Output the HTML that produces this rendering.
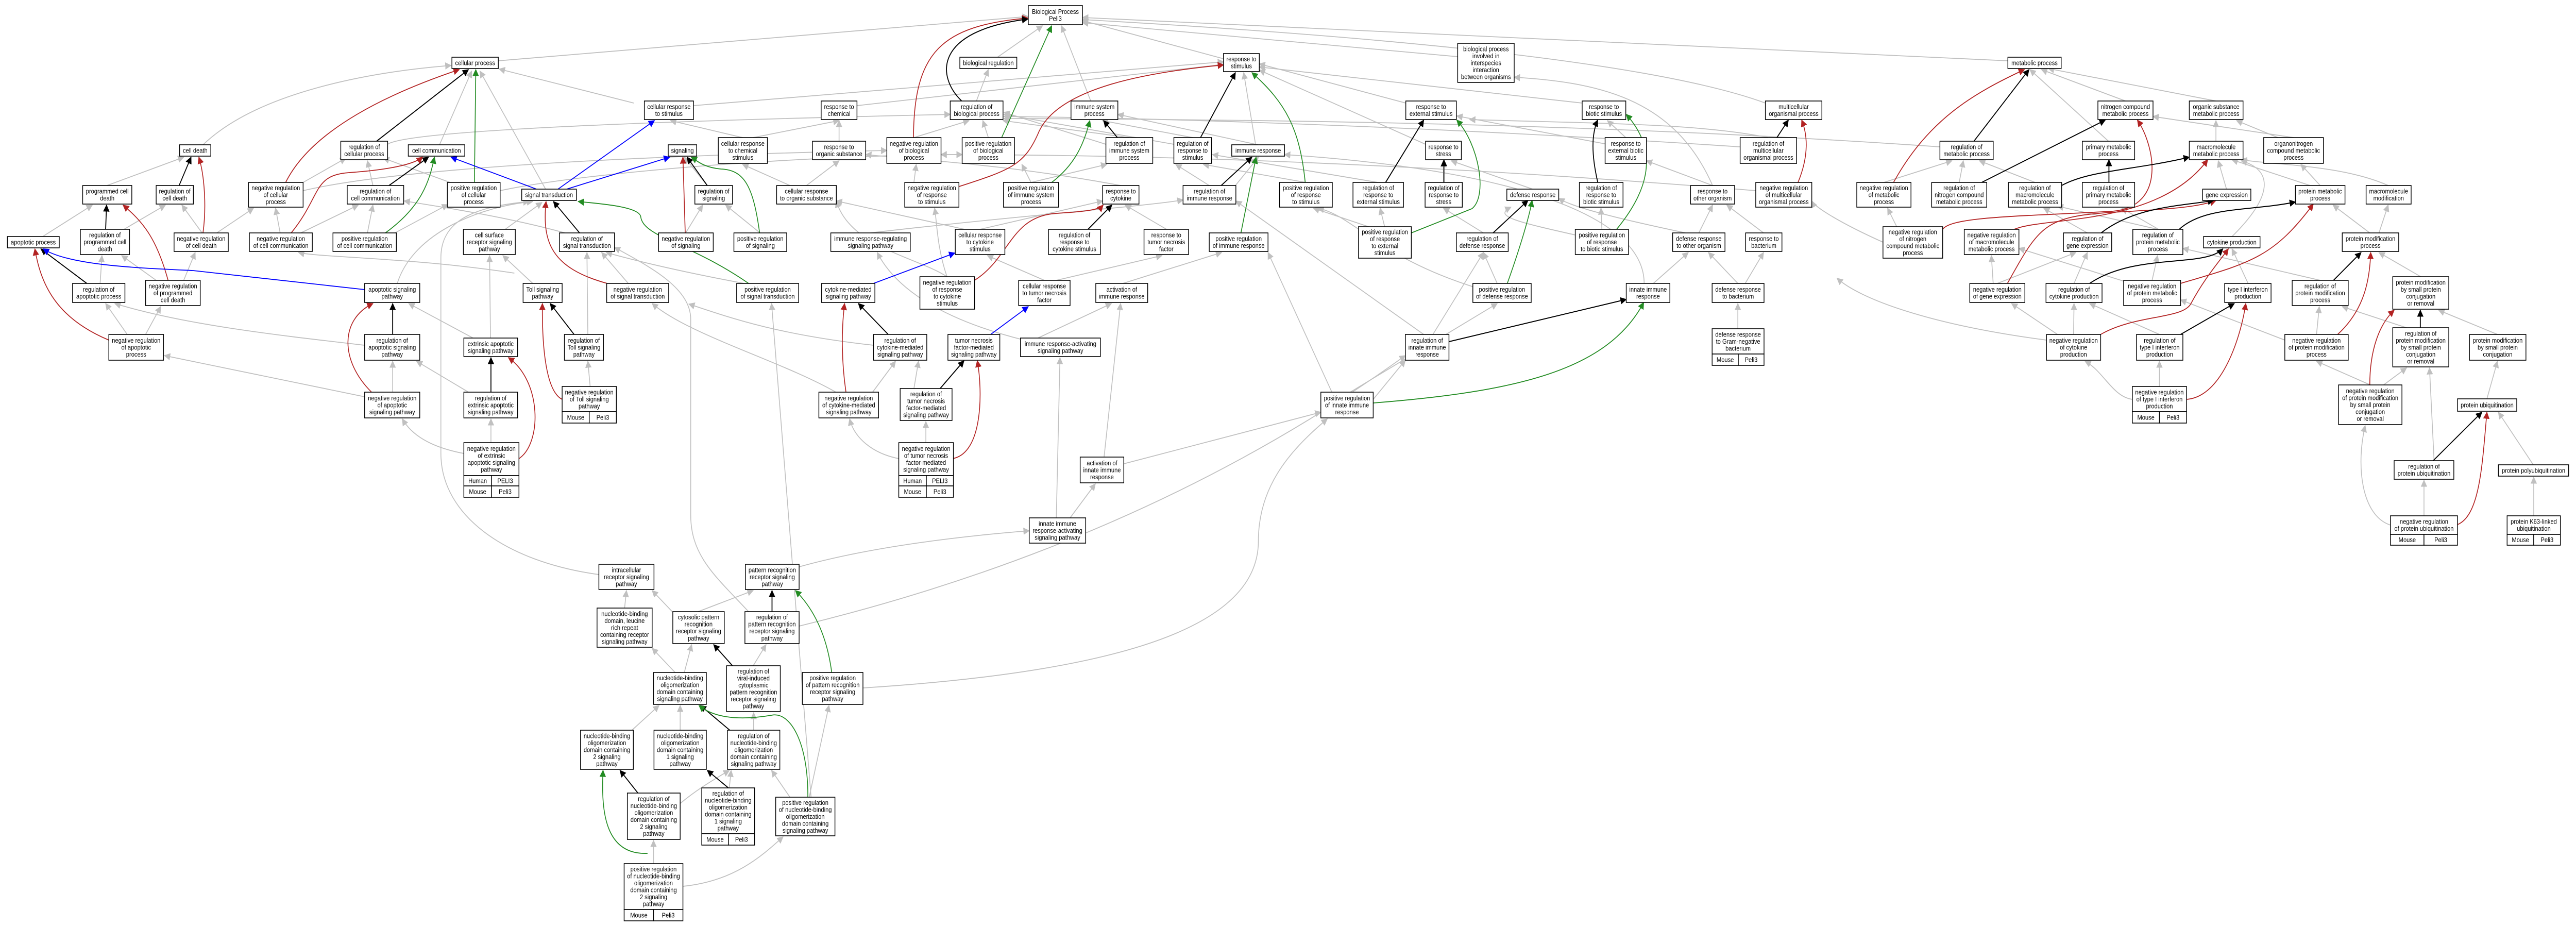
<!DOCTYPE html>
<html><head><meta charset="utf-8"><style>
html,body{margin:0;padding:0;background:#fff;overflow:hidden}
svg{display:block;width:100vw;height:100vh}
.n rect{fill:#fff;stroke:#000;stroke-width:1.6}
text{font-family:"Liberation Sans",sans-serif;font-size:12.5px;text-anchor:middle;fill:#000}
.g{fill:none;stroke:#c0c0c0;stroke-width:1.8}
.k{fill:none;stroke:#000;stroke-width:2}
.r{fill:none;stroke:#b22222;stroke-width:1.8}
.b{fill:none;stroke:#0000ff;stroke-width:1.8}
.e{fill:none;stroke:#228b22;stroke-width:1.8}
.bm{fill:#add8e6;stroke:#000;stroke-width:1.6}
.bh{fill:#f8613f;stroke:#000;stroke-width:1.6}
</style></head><body>
<svg viewBox="0 0 5609 1797" preserveAspectRatio="none" xmlns="http://www.w3.org/2000/svg">
<defs>
<marker id="ag" viewBox="0 0 10 10" refX="9" refY="5" markerWidth="14" markerHeight="14" markerUnits="userSpaceOnUse" orient="auto"><path d="M0,0L10,5L0,10z" fill="#c0c0c0"/></marker>
<marker id="ak" viewBox="0 0 10 10" refX="9" refY="5" markerWidth="14" markerHeight="14" markerUnits="userSpaceOnUse" orient="auto"><path d="M0,0L10,5L0,10z" fill="#000"/></marker>
<marker id="ar" viewBox="0 0 10 10" refX="9" refY="5" markerWidth="14" markerHeight="14" markerUnits="userSpaceOnUse" orient="auto"><path d="M0,0L10,5L0,10z" fill="#b22222"/></marker>
<marker id="ab" viewBox="0 0 10 10" refX="9" refY="5" markerWidth="14" markerHeight="14" markerUnits="userSpaceOnUse" orient="auto"><path d="M0,0L10,5L0,10z" fill="#0000ff"/></marker>
<marker id="ae" viewBox="0 0 10 10" refX="9" refY="5" markerWidth="14" markerHeight="14" markerUnits="userSpaceOnUse" orient="auto"><path d="M0,0L10,5L0,10z" fill="#228b22"/></marker>
</defs>

<g marker-end="url(#ag)">
<path class="g" d="M1085,118 L2239,32"/>
<path class="g" d="M442,281 C560,180 800,140 982,127"/>
<path class="g" d="M957,281 L1027,138"/>
<path class="g" d="M1188,367 L1045,138"/>
<path class="g" d="M1380,200 L1087,134"/>
<path class="g" d="M2172,111 L2270,50"/>
<path class="g" d="M2375,196 L2311,50"/>
<path class="g" d="M2664,114 L2357,40"/>
<path class="g" d="M4372,118 L2357,34"/>
<path class="g" d="M3844,200 C3600,120 3000,70 2357,38"/>
<path class="g" d="M3174,110 L2357,44"/>
<path class="g" d="M1510,205 L2664,120"/>
<path class="g" d="M1866,205 L2664,125"/>
<path class="g" d="M3061,200 L2742,124"/>
<path class="g" d="M3445,200 L2742,130"/>
<path class="g" d="M3104,280 L2742,136"/>
<path class="g" d="M2734,281 L2708,141"/>
<path class="g" d="M2126,196 L2152,135"/>
<path class="g" d="M844,280 Q900,245 2069,222"/>
<path class="g" d="M2556,280 L2186,222"/>
<path class="g" d="M2408,280 L2186,218"/>
<path class="g" d="M3789,285 C3200,250 2600,230 2186,226"/>
<path class="g" d="M4224,285 C3500,240 2800,232 2186,230"/>
<path class="g" d="M3823,370 C3000,310 2400,300 2049,300"/>
<path class="g" d="M660,370 C900,320 1500,300 1931,292"/>
<path class="g" d="M1089,370 C1300,330 1800,300 2095,300"/>
<path class="g" d="M1617,267 L1460,234"/>
<path class="g" d="M1640,267 L1827,234"/>
<path class="g" d="M1827,274 L1827,234"/>
<path class="g" d="M1756,360 L1827,312"/>
<path class="g" d="M1720,360 L1617,319"/>
<path class="g" d="M2440,360 C2200,320 2000,310 1885,300"/>
<path class="g" d="M2134,445 L2401,390"/>
<path class="g" d="M2100,445 L1821,390"/>
<path class="g" d="M2540,445 L2450,398"/>
<path class="g" d="M2274,544 L2150,496"/>
<path class="g" d="M2300,544 L2530,496"/>
<path class="g" d="M2739,281 L2434,222"/>
<path class="g" d="M1895,452 C2200,420 2500,400 2576,388"/>
<path class="g" d="M3337,367 L3160,312"/>
<path class="g" d="M3540,267 L3500,234"/>
<path class="g" d="M3500,280 L3172,225"/>
<path class="g" d="M3729,360 L3585,312"/>
<path class="g" d="M3729,360 C3650,200 3500,160 3297,150"/>
<path class="g" d="M3699,452 L3729,398"/>
<path class="g" d="M3670,452 C3500,420 3420,400 3394,385"/>
<path class="g" d="M3840,452 L3760,398"/>
<path class="g" d="M3784,550 L3720,490"/>
<path class="g" d="M3800,550 L3840,490"/>
<path class="g" d="M3784,638 L3784,589"/>
<path class="g" d="M3600,550 L3676,490"/>
<path class="g" d="M3580,550 C3580,420 3300,330 2797,300"/>
<path class="g" d="M3100,649 L2691,390"/>
<path class="g" d="M3120,649 L3230,490"/>
<path class="g" d="M2900,761 L2761,490"/>
<path class="g" d="M2940,761 L3260,589"/>
<path class="g" d="M2990,775 L3060,699"/>
<path class="g" d="M3230,452 L3143,404"/>
<path class="g" d="M3143,354 L3143,312"/>
<path class="g" d="M3000,354 L2640,300"/>
<path class="g" d="M3260,550 L3230,490"/>
<path class="g" d="M3220,560 C3000,500 2950,420 2870,404"/>
<path class="g" d="M3015,440 L3005,404"/>
<path class="g" d="M2980,440 L2860,404"/>
<path class="g" d="M3488,445 L3486,404"/>
<path class="g" d="M3450,460 C3300,430 3250,420 3290,402"/>
<path class="g" d="M3850,267 C3700,240 3500,240 3200,232"/>
<path class="g" d="M4628,196 L4445,135"/>
<path class="g" d="M4825,196 L4460,133"/>
<path class="g" d="M4591,274 L4420,135"/>
<path class="g" d="M4825,274 L4825,234"/>
<path class="g" d="M4994,267 L4688,226"/>
<path class="g" d="M4960,267 L4870,234"/>
<path class="g" d="M4102,354 L4250,312"/>
<path class="g" d="M4266,354 L4275,312"/>
<path class="g" d="M4431,354 L4310,312"/>
<path class="g" d="M4848,367 L4830,312"/>
<path class="g" d="M5030,360 L4860,310"/>
<path class="g" d="M5052,360 L5010,319"/>
<path class="g" d="M5200,360 C5100,320 4950,320 4880,310"/>
<path class="g" d="M5160,452 L5080,398"/>
<path class="g" d="M5180,452 L5200,398"/>
<path class="g" d="M5271,537 L5180,490"/>
<path class="g" d="M5438,649 L5310,602"/>
<path class="g" d="M5415,774 L5438,701"/>
<path class="g" d="M5516,902 L5440,800"/>
<path class="g" d="M5517,1001 L5517,926"/>
<path class="g" d="M5278,1001 L5278,932"/>
<path class="g" d="M5300,894 L5290,714"/>
<path class="g" d="M5161,747 L5044,701"/>
<path class="g" d="M5190,747 L5240,714"/>
<path class="g" d="M5205,1019 C5140,1000 5130,900 5150,826"/>
<path class="g" d="M4545,452 L4450,404"/>
<path class="g" d="M4349,550 L4520,490"/>
<path class="g" d="M4340,550 L4336,496"/>
<path class="g" d="M4516,550 L4545,490"/>
<path class="g" d="M4698,445 L4480,400"/>
<path class="g" d="M4700,445 L4620,404"/>
<path class="g" d="M4686,544 L4698,496"/>
<path class="g" d="M4640,550 L4396,482"/>
<path class="g" d="M5052,544 L4753,482"/>
<path class="g" d="M4895,550 L4860,483"/>
<path class="g" d="M4860,459 C4950,380 4950,330 4880,312"/>
<path class="g" d="M4515,649 L4516,589"/>
<path class="g" d="M4480,649 L4380,589"/>
<path class="g" d="M4702,649 L4550,589"/>
<path class="g" d="M4702,750 L4702,701"/>
<path class="g" d="M4643,775 C4600,770 4580,720 4540,701"/>
<path class="g" d="M4975,660 L4748,582"/>
<path class="g" d="M5044,649 L5050,595"/>
<path class="g" d="M5240,636 L5100,595"/>
<path class="g" d="M4456,660 C4200,630 4050,580 4000,540"/>
<path class="g" d="M4100,470 C4000,430 3950,400 3945,390"/>
<path class="g" d="M4130,440 L4110,404"/>
<path class="g" d="M233,360 L400,305"/>
<path class="g" d="M93,459 L201,398"/>
<path class="g" d="M270,445 L360,398"/>
<path class="g" d="M440,452 L396,398"/>
<path class="g" d="M472,452 L552,404"/>
<path class="g" d="M400,544 L425,490"/>
<path class="g" d="M340,544 L265,496"/>
<path class="g" d="M218,550 L222,496"/>
<path class="g" d="M277,649 L230,589"/>
<path class="g" d="M317,649 L350,595"/>
<path class="g" d="M794,770 L358,690"/>
<path class="g" d="M794,670 C600,650 400,630 250,589"/>
<path class="g" d="M865,550 C900,450 1050,400 1160,391"/>
<path class="g" d="M1030,656 L890,589"/>
<path class="g" d="M1068,656 L1066,496"/>
<path class="g" d="M1020,761 L907,701"/>
<path class="g" d="M855,761 L855,701"/>
<path class="g" d="M1069,859 L1069,813"/>
<path class="g" d="M1010,880 C950,870 900,850 876,813"/>
<path class="g" d="M812,360 L800,312"/>
<path class="g" d="M660,354 L753,307"/>
<path class="g" d="M980,354 L835,307"/>
<path class="g" d="M610,452 L600,404"/>
<path class="g" d="M655,452 L780,398"/>
<path class="g" d="M800,452 L812,398"/>
<path class="g" d="M860,452 L975,397"/>
<path class="g" d="M1100,445 L1180,393"/>
<path class="g" d="M1230,452 C1100,420 950,400 880,390"/>
<path class="g" d="M1160,550 L1095,496"/>
<path class="g" d="M1280,649 L1278,490"/>
<path class="g" d="M1285,750 L1280,701"/>
<path class="g" d="M1368,550 L1310,490"/>
<path class="g" d="M1620,550 C1500,530 1400,510 1320,490"/>
<path class="g" d="M1120,530 C900,500 700,500 650,490"/>
<path class="g" d="M1304,1115 C1100,1090 960,1000 960,880 L960,500 C960,420 1050,400 1152,391"/>
<path class="g" d="M1360,1180 L1364,1146"/>
<path class="g" d="M1740,1100 C1900,1060 2100,1040 2241,1030"/>
<path class="g" d="M1740,1215 Q2500,1050 3060,690"/>
<path class="g" d="M1879,1335 C2500,1300 2740,1200 2740,1050 C2740,950 2800,880 2890,813"/>
<path class="g" d="M1520,1187 L1640,1146"/>
<path class="g" d="M1467,1190 L1420,1146"/>
<path class="g" d="M1640,1292 L1668,1251"/>
<path class="g" d="M1470,1305 L1420,1258"/>
<path class="g" d="M1490,1305 L1506,1251"/>
<path class="g" d="M1481,1417 L1481,1369"/>
<path class="g" d="M1376,1417 L1435,1369"/>
<path class="g" d="M1641,1417 L1641,1383"/>
<path class="g" d="M1588,1529 L1592,1495"/>
<path class="g" d="M1480,1560 C1520,1530 1560,1510 1588,1495"/>
<path class="g" d="M1720,1547 L1680,1495"/>
<path class="g" d="M1762,1547 L1805,1369"/>
<path class="g" d="M1487,1720 C1600,1710 1660,1660 1705,1624"/>
<path class="g" d="M1423,1676 L1423,1631"/>
<path class="g" d="M2330,1005 L2385,939"/>
<path class="g" d="M2300,1005 L2308,694"/>
<path class="g" d="M2404,887 L2440,589"/>
<path class="g" d="M2447,900 L2876,800"/>
<path class="g" d="M2260,656 L2420,589"/>
<path class="g" d="M2230,660 C2050,620 1950,560 1910,490"/>
<path class="g" d="M2445,550 L2660,490"/>
<path class="g" d="M1820,761 C1700,700 1500,650 1420,589"/>
<path class="g" d="M1900,761 L1950,701"/>
<path class="g" d="M1990,754 L2000,701"/>
<path class="g" d="M2016,859 L2016,818"/>
<path class="g" d="M1957,890 C1900,880 1860,850 1850,813"/>
<path class="g" d="M1902,670 C1700,650 1600,620 1500,590"/>
<path class="g" d="M1766,1547 L1680,589"/>
<path class="g" d="M1630,1187 C1560,1120 1504,1080 1504,1000 L1504,620 C1504,560 1420,520 1338,480"/>
<path class="g" d="M2062,537 C2040,480 2040,430 2035,404"/>
<path class="g" d="M1493,452 L1530,398"/>
<path class="g" d="M1655,452 L1580,398"/>
<path class="g" d="M1540,360 L1490,305"/>
<path class="g" d="M1990,354 L1995,319"/>
<path class="g" d="M2245,354 L2225,319"/>
<path class="g" d="M2245,354 L2410,319"/>
<path class="g" d="M2633,360 L2560,319"/>
<path class="g" d="M2843,354 L2620,319"/>
<path class="g" d="M2690,360 L2740,305"/>
<path class="g" d="M2062,537 C2000,500 1850,480 1821,390"/>
<path class="g" d="M1990,267 L2110,234"/>
<path class="g" d="M2152,267 L2140,234"/>
<path class="g" d="M2459,267 L2184,234"/>
<path class="g" d="M2597,267 L2400,234"/>
</g>

<path class="r" marker-end="url(#ar)" d="M622,354 C680,250 850,180 1000,135"/>
<path class="k" marker-end="url(#ak)" d="M820,274 L1020,135"/>
<path class="e" marker-end="url(#ae)" d="M1033,354 L1036,135"/>
<path class="k" marker-end="url(#ak)" d="M390,360 L416,305"/>
<path class="r" marker-end="url(#ar)" d="M442,452 C450,400 445,340 433,305"/>
<path class="k" marker-end="url(#ak)" d="M230,445 L232,398"/>
<path class="r" marker-end="url(#ar)" d="M366,544 C340,460 310,430 268,398"/>
<path class="k" marker-end="url(#ak)" d="M189,550 L89,483"/>
<path class="b" marker-end="url(#ab)" d="M794,562 L420,525 C300,520 150,515 94,483"/>
<path class="r" marker-end="url(#ar)" d="M237,660 C130,620 90,560 76,483"/>
<path class="k" marker-end="url(#ak)" d="M847,360 L933,305"/>
<path class="r" marker-end="url(#ar)" d="M634,452 C700,380 680,340 760,335 C840,330 900,320 920,305"/>
<path class="e" marker-end="url(#ae)" d="M839,452 C920,400 935,350 946,305"/>
<path class="b" marker-end="url(#ab)" d="M1168,367 L982,305"/>
<path class="k" marker-end="url(#ak)" d="M1262,452 L1205,391"/>
<path class="r" marker-end="url(#ar)" d="M1322,550 C1200,520 1180,470 1189,391"/>
<path class="e" marker-end="url(#ae)" d="M1630,550 C1500,470 1400,460 1395,420 C1390,400 1300,395 1259,391"/>
<path class="k" marker-end="url(#ak)" d="M855,649 L855,589"/>
<path class="r" marker-end="url(#ar)" d="M809,761 C740,700 740,620 812,589"/>
<path class="k" marker-end="url(#ak)" d="M1069,761 L1069,694"/>
<path class="r" marker-end="url(#ar)" d="M1130,890 C1180,860 1180,740 1107,694"/>
<path class="k" marker-end="url(#ak)" d="M1250,649 L1198,589"/>
<path class="r" marker-end="url(#ar)" d="M1224,775 C1190,760 1180,680 1181,589"/>
<path class="b" marker-end="url(#ab)" d="M1215,367 L1425,234"/>
<path class="b" marker-end="url(#ab)" d="M1234,367 L1458,305"/>
<path class="r" marker-end="url(#ar)" d="M1989,267 C1990,100 2050,50 2238,35"/>
<path class="k" marker-end="url(#ak)" d="M2094,196 C2040,150 2030,60 2238,37"/>
<path class="e" marker-end="url(#ae)" d="M2181,267 L2290,50"/>
<path class="r" marker-end="url(#ar)" d="M2088,362 C2200,330 2230,320 2260,260 C2300,170 2500,140 2664,126"/>
<path class="k" marker-end="url(#ak)" d="M2614,267 L2690,141"/>
<path class="e" marker-end="url(#ae)" d="M2842,354 C2830,250 2800,200 2726,141"/>
<path class="k" marker-end="url(#ak)" d="M2433,267 L2403,234"/>
<path class="e" marker-end="url(#ae)" d="M2290,354 C2340,320 2360,280 2373,234"/>
<path class="k" marker-end="url(#ak)" d="M1540,360 L1496,305"/>
<path class="r" marker-end="url(#ar)" d="M1492,452 L1487,305"/>
<path class="e" marker-end="url(#ae)" d="M1654,452 C1640,360 1620,330 1570,328 C1530,325 1515,310 1505,305"/>
<path class="k" marker-end="url(#ak)" d="M2369,445 L2421,398"/>
<path class="r" marker-end="url(#ar)" d="M2122,544 C2200,500 2200,420 2300,414 C2380,410 2395,405 2402,398"/>
<path class="b" marker-end="url(#ab)" d="M1902,550 L2079,491"/>
<path class="k" marker-end="url(#ak)" d="M2659,360 L2726,305"/>
<path class="e" marker-end="url(#ae)" d="M2702,452 L2735,305"/>
<path class="k" marker-end="url(#ak)" d="M1934,649 L1869,589"/>
<path class="r" marker-end="url(#ar)" d="M1842,761 C1832,700 1832,640 1839,589"/>
<path class="b" marker-end="url(#ab)" d="M2157,649 L2239,595"/>
<path class="k" marker-end="url(#ak)" d="M2047,754 L2099,700"/>
<path class="r" marker-end="url(#ar)" d="M2074,890 C2140,880 2140,760 2128,700"/>
<path class="k" marker-end="url(#ak)" d="M3017,354 L3100,233"/>
<path class="e" marker-end="url(#ae)" d="M3073,452 L3205,405 C3240,380 3220,280 3172,233"/>
<path class="k" marker-end="url(#ak)" d="M3144,354 L3144,310"/>
<path class="k" marker-end="url(#ak)" d="M3479,354 C3465,300 3465,260 3479,233"/>
<path class="e" marker-end="url(#ae)" d="M3520,445 C3580,380 3620,300 3541,222"/>
<path class="k" marker-end="url(#ak)" d="M3251,452 L3327,389"/>
<path class="e" marker-end="url(#ae)" d="M3282,550 C3310,480 3330,420 3336,389"/>
<path class="k" marker-end="url(#ak)" d="M3155,663 L3541,581"/>
<path class="e" marker-end="url(#ae)" d="M2990,782 C3300,760 3500,720 3579,587"/>
<path class="k" marker-end="url(#ak)" d="M3869,267 L3894,233"/>
<path class="r" marker-end="url(#ar)" d="M3915,354 C3940,300 3935,260 3923,233"/>
<path class="r" marker-end="url(#ar)" d="M4123,354 C4200,230 4300,180 4408,135"/>
<path class="k" marker-end="url(#ak)" d="M4298,274 L4418,135"/>
<path class="k" marker-end="url(#ak)" d="M4315,354 L4584,233"/>
<path class="r" marker-end="url(#ar)" d="M4230,445 C4250,420 4400,420 4600,410 C4720,400 4690,280 4654,233"/>
<path class="k" marker-end="url(#ak)" d="M4592,354 L4592,310"/>
<path class="k" marker-end="url(#ak)" d="M4489,360 C4550,330 4650,330 4767,305"/>
<path class="r" marker-end="url(#ar)" d="M4386,445 C4450,420 4700,440 4807,310"/>
<path class="r" marker-end="url(#ar)" d="M4371,550 C4440,440 4450,420 4600,412 C4750,405 4790,400 4825,389"/>
<path class="k" marker-end="url(#ak)" d="M4575,452 C4650,400 4750,400 4820,389"/>
<path class="k" marker-end="url(#ak)" d="M4745,445 C4800,400 4900,410 4998,392"/>
<path class="r" marker-end="url(#ar)" d="M4748,550 C4900,510 4950,500 5037,396"/>
<path class="k" marker-end="url(#ak)" d="M4550,550 C4650,490 4800,520 4840,483"/>
<path class="r" marker-end="url(#ar)" d="M4574,649 C4650,610 4750,620 4770,590 C4800,540 4830,510 4852,483"/>
<path class="k" marker-end="url(#ak)" d="M4748,649 L4865,589"/>
<path class="r" marker-end="url(#ar)" d="M4761,775 C4840,770 4880,650 4890,589"/>
<path class="k" marker-end="url(#ak)" d="M5081,544 L5141,490"/>
<path class="r" marker-end="url(#ar)" d="M5090,649 C5150,600 5160,540 5162,490"/>
<path class="k" marker-end="url(#ak)" d="M5270,636 L5270,602"/>
<path class="r" marker-end="url(#ar)" d="M5160,747 C5160,680 5180,630 5213,602"/>
<path class="k" marker-end="url(#ak)" d="M5298,894 L5404,800"/>
<path class="r" marker-end="url(#ar)" d="M5351,1018 C5400,1000 5405,900 5415,800"/>
<path class="k" marker-end="url(#ak)" d="M1681,1187 L1681,1146"/>
<path class="e" marker-end="url(#ae)" d="M1811,1305 C1800,1230 1770,1180 1732,1146"/>
<path class="k" marker-end="url(#ak)" d="M1595,1292 L1554,1251"/>
<path class="k" marker-end="url(#ak)" d="M1589,1417 L1525,1369"/>
<path class="e" marker-end="url(#ae)" d="M1759,1547 C1760,1440 1720,1380 1680,1388 C1600,1400 1550,1390 1522,1369"/>
<path class="k" marker-end="url(#ak)" d="M1586,1529 L1540,1495"/>
<path class="k" marker-end="url(#ak)" d="M1389,1539 L1350,1495"/>
<path class="e" marker-end="url(#ae)" d="M1410,1656 C1310,1660 1310,1560 1313,1495"/>

<g class="n">
<rect x="984" y="111" width="101" height="22"/><text x="1034.5" y="122"><tspan dy="4.5">cellular process</tspan></text>
<rect x="391" y="281" width="68" height="22"/><text x="425" y="292"><tspan dy="4.5">cell death</tspan></text>
<rect x="742" y="274" width="102" height="36"/><text x="793" y="292"><tspan x="793" dy="-2.25">regulation of</tspan><tspan x="793" dy="13.5">cellular process</tspan></text>
<rect x="889" y="281" width="123" height="22"/><text x="950.5" y="292"><tspan dy="4.5">cell communication</tspan></text>
<rect x="180" y="360" width="107" height="36"/><text x="233.5" y="378"><tspan x="233.5" dy="-2.25">programmed cell</tspan><tspan x="233.5" dy="13.5">death</tspan></text>
<rect x="340" y="360" width="81" height="36"/><text x="380.5" y="378"><tspan x="380.5" dy="-2.25">regulation of</tspan><tspan x="380.5" dy="13.5">cell death</tspan></text>
<rect x="541" y="354" width="119" height="48"/><text x="600.5" y="378"><tspan x="600.5" dy="-9">negative regulation</tspan><tspan x="600.5" dy="13.5">of cellular</tspan><tspan x="600.5" dy="13.5">process</tspan></text>
<rect x="756" y="360" width="123" height="36"/><text x="817.5" y="378"><tspan x="817.5" dy="-2.25">regulation of</tspan><tspan x="817.5" dy="13.5">cell communication</tspan></text>
<rect x="974" y="354" width="115" height="48"/><text x="1031.5" y="378"><tspan x="1031.5" dy="-9">positive regulation</tspan><tspan x="1031.5" dy="13.5">of cellular</tspan><tspan x="1031.5" dy="13.5">process</tspan></text>
<rect x="1136" y="367" width="119" height="22"/><text x="1195.5" y="378"><tspan dy="4.5">signal transduction</tspan></text>
<rect x="16" y="459" width="113" height="22"/><text x="72.5" y="470"><tspan dy="4.5">apoptotic process</tspan></text>
<rect x="175" y="445" width="107" height="49"/><text x="228.5" y="469.5"><tspan x="228.5" dy="-9">regulation of</tspan><tspan x="228.5" dy="13.5">programmed cell</tspan><tspan x="228.5" dy="13.5">death</tspan></text>
<rect x="379" y="452" width="118" height="36"/><text x="438" y="470"><tspan x="438" dy="-2.25">negative regulation</tspan><tspan x="438" dy="13.5">of cell death</tspan></text>
<rect x="543" y="452" width="137" height="36"/><text x="611.5" y="470"><tspan x="611.5" dy="-2.25">negative regulation</tspan><tspan x="611.5" dy="13.5">of cell communication</tspan></text>
<rect x="725" y="452" width="138" height="36"/><text x="794" y="470"><tspan x="794" dy="-2.25">positive regulation</tspan><tspan x="794" dy="13.5">of cell communication</tspan></text>
<rect x="1009" y="445" width="113" height="49"/><text x="1065.5" y="469.5"><tspan x="1065.5" dy="-9">cell surface</tspan><tspan x="1065.5" dy="13.5">receptor signaling</tspan><tspan x="1065.5" dy="13.5">pathway</tspan></text>
<rect x="1218" y="452" width="120" height="36"/><text x="1278" y="470"><tspan x="1278" dy="-2.25">regulation of</tspan><tspan x="1278" dy="13.5">signal transduction</tspan></text>
<rect x="158" y="550" width="114" height="37"/><text x="215" y="568.5"><tspan x="215" dy="-2.25">regulation of</tspan><tspan x="215" dy="13.5">apoptotic process</tspan></text>
<rect x="317" y="544" width="119" height="49"/><text x="376.5" y="568.5"><tspan x="376.5" dy="-9">negative regulation</tspan><tspan x="376.5" dy="13.5">of programmed</tspan><tspan x="376.5" dy="13.5">cell death</tspan></text>
<rect x="794" y="550" width="120" height="37"/><text x="854" y="568.5"><tspan x="854" dy="-2.25">apoptotic signaling</tspan><tspan x="854" dy="13.5">pathway</tspan></text>
<rect x="1139" y="550" width="85" height="37"/><text x="1181.5" y="568.5"><tspan x="1181.5" dy="-2.25">Toll signaling</tspan><tspan x="1181.5" dy="13.5">pathway</tspan></text>
<rect x="1321" y="550" width="135" height="37"/><text x="1388.5" y="568.5"><tspan x="1388.5" dy="-2.25">negative regulation</tspan><tspan x="1388.5" dy="13.5">of signal transduction</tspan></text>
<rect x="237" y="649" width="119" height="50"/><text x="296.5" y="674"><tspan x="296.5" dy="-9">negative regulation</tspan><tspan x="296.5" dy="13.5">of apoptotic</tspan><tspan x="296.5" dy="13.5">process</tspan></text>
<rect x="794" y="649" width="120" height="50"/><text x="854" y="674"><tspan x="854" dy="-9">regulation of</tspan><tspan x="854" dy="13.5">apoptotic signaling</tspan><tspan x="854" dy="13.5">pathway</tspan></text>
<rect x="1010" y="656" width="117" height="36"/><text x="1068.5" y="674"><tspan x="1068.5" dy="-2.25">extrinsic apoptotic</tspan><tspan x="1068.5" dy="13.5">signaling pathway</tspan></text>
<rect x="1229" y="649" width="85" height="50"/><text x="1271.5" y="674"><tspan x="1271.5" dy="-9">regulation of</tspan><tspan x="1271.5" dy="13.5">Toll signaling</tspan><tspan x="1271.5" dy="13.5">pathway</tspan></text>
<rect x="1224" y="750" width="118" height="49"/><text x="1283" y="774.5"><tspan x="1283" dy="-9">negative regulation</tspan><tspan x="1283" dy="13.5">of Toll signaling</tspan><tspan x="1283" dy="13.5">pathway</tspan></text>
<rect class="bm" x="1224" y="799" width="59" height="22"/><rect class="bm" x="1283" y="799" width="59" height="22"/><text x="1253.5" y="814.5">Mouse</text><text x="1312.5" y="814.5">Peli3</text>
<rect x="794" y="761" width="120" height="50"/><text x="854" y="786"><tspan x="854" dy="-9">negative regulation</tspan><tspan x="854" dy="13.5">of apoptotic</tspan><tspan x="854" dy="13.5">signaling pathway</tspan></text>
<rect x="1010" y="761" width="117" height="50"/><text x="1068.5" y="786"><tspan x="1068.5" dy="-9">regulation of</tspan><tspan x="1068.5" dy="13.5">extrinsic apoptotic</tspan><tspan x="1068.5" dy="13.5">signaling pathway</tspan></text>
<rect x="1010" y="859" width="120" height="64"/><text x="1070" y="891"><tspan x="1070" dy="-15.75">negative regulation</tspan><tspan x="1070" dy="13.5">of extrinsic</tspan><tspan x="1070" dy="13.5">apoptotic signaling</tspan><tspan x="1070" dy="13.5">pathway</tspan></text>
<rect class="bh" x="1010" y="923" width="60" height="20"/><rect class="bh" x="1070" y="923" width="60" height="20"/><text x="1040" y="937.5">Human</text><text x="1100" y="937.5">PELI3</text>
<rect class="bm" x="1010" y="943" width="60" height="22"/><rect class="bm" x="1070" y="943" width="60" height="22"/><text x="1040" y="958.5">Mouse</text><text x="1100" y="958.5">Peli3</text>
<rect x="1304" y="1095" width="120" height="49"/><text x="1364" y="1119.5"><tspan x="1364" dy="-9">intracellular</tspan><tspan x="1364" dy="13.5">receptor signaling</tspan><tspan x="1364" dy="13.5">pathway</tspan></text>
<rect x="1300" y="1180" width="120" height="76"/><text x="1360" y="1218"><tspan x="1360" dy="-22.5">nucleotide-binding</tspan><tspan x="1360" dy="13.5">domain, leucine</tspan><tspan x="1360" dy="13.5">rich repeat</tspan><tspan x="1360" dy="13.5">containing receptor</tspan><tspan x="1360" dy="13.5">signaling pathway</tspan></text>
<rect x="1264" y="1417" width="115" height="76"/><text x="1321.5" y="1455"><tspan x="1321.5" dy="-22.5">nucleotide-binding</tspan><tspan x="1321.5" dy="13.5">oligomerization</tspan><tspan x="1321.5" dy="13.5">domain containing</tspan><tspan x="1321.5" dy="13.5">2 signaling</tspan><tspan x="1321.5" dy="13.5">pathway</tspan></text>
<rect x="1366" y="1539" width="115" height="90"/><text x="1423.5" y="1584"><tspan x="1423.5" dy="-29.25">regulation of</tspan><tspan x="1423.5" dy="13.5">nucleotide-binding</tspan><tspan x="1423.5" dy="13.5">oligomerization</tspan><tspan x="1423.5" dy="13.5">domain containing</tspan><tspan x="1423.5" dy="13.5">2 signaling</tspan><tspan x="1423.5" dy="13.5">pathway</tspan></text>
<rect x="1359" y="1676" width="128" height="89"/><text x="1423" y="1720.5"><tspan x="1423" dy="-29.25">positive regulation</tspan><tspan x="1423" dy="13.5">of nucleotide-binding</tspan><tspan x="1423" dy="13.5">oligomerization</tspan><tspan x="1423" dy="13.5">domain containing</tspan><tspan x="1423" dy="13.5">2 signaling</tspan><tspan x="1423" dy="13.5">pathway</tspan></text>
<rect class="bm" x="1359" y="1765" width="64" height="22"/><rect class="bm" x="1423" y="1765" width="64" height="22"/><text x="1391" y="1780.5">Mouse</text><text x="1455" y="1780.5">Peli3</text>

<rect x="2239" y="11" width="118" height="37"/><text x="2298" y="29.5"><tspan x="2298" dy="-2.25">Biological Process</tspan><tspan x="2298" dy="13.5">Peli3</tspan></text>
<rect x="2090" y="111" width="124" height="22"/><text x="2152" y="122"><tspan dy="4.5">biological regulation</tspan></text>
<rect x="2664" y="104" width="78" height="35"/><text x="2703" y="121.5"><tspan x="2703" dy="-2.25">response to</tspan><tspan x="2703" dy="13.5">stimulus</tspan></text>
<rect x="1403" y="196" width="107" height="36"/><text x="1456.5" y="214"><tspan x="1456.5" dy="-2.25">cellular response</tspan><tspan x="1456.5" dy="13.5">to stimulus</tspan></text>
<rect x="1788" y="196" width="78" height="36"/><text x="1827" y="214"><tspan x="1827" dy="-2.25">response to</tspan><tspan x="1827" dy="13.5">chemical</tspan></text>
<rect x="2069" y="196" width="115" height="36"/><text x="2126.5" y="214"><tspan x="2126.5" dy="-2.25">regulation of</tspan><tspan x="2126.5" dy="13.5">biological process</tspan></text>
<rect x="2332" y="196" width="102" height="36"/><text x="2383" y="214"><tspan x="2383" dy="-2.25">immune system</tspan><tspan x="2383" dy="13.5">process</tspan></text>
<rect x="1455" y="281" width="62" height="22"/><text x="1486" y="292"><tspan dy="4.5">signaling</tspan></text>
<rect x="1564" y="267" width="107" height="50"/><text x="1617.5" y="292"><tspan x="1617.5" dy="-9">cellular response</tspan><tspan x="1617.5" dy="13.5">to chemical</tspan><tspan x="1617.5" dy="13.5">stimulus</tspan></text>
<rect x="1769" y="274" width="116" height="36"/><text x="1827" y="292"><tspan x="1827" dy="-2.25">response to</tspan><tspan x="1827" dy="13.5">organic substance</tspan></text>
<rect x="1931" y="267" width="118" height="50"/><text x="1990" y="292"><tspan x="1990" dy="-9">negative regulation</tspan><tspan x="1990" dy="13.5">of biological</tspan><tspan x="1990" dy="13.5">process</tspan></text>
<rect x="2095" y="267" width="114" height="50"/><text x="2152" y="292"><tspan x="2152" dy="-9">positive regulation</tspan><tspan x="2152" dy="13.5">of biological</tspan><tspan x="2152" dy="13.5">process</tspan></text>
<rect x="2408" y="267" width="102" height="50"/><text x="2459" y="292"><tspan x="2459" dy="-9">regulation of</tspan><tspan x="2459" dy="13.5">immune system</tspan><tspan x="2459" dy="13.5">process</tspan></text>
<rect x="2556" y="267" width="82" height="50"/><text x="2597" y="292"><tspan x="2597" dy="-9">regulation of</tspan><tspan x="2597" dy="13.5">response to</tspan><tspan x="2597" dy="13.5">stimulus</tspan></text>
<rect x="2682" y="281" width="115" height="22"/><text x="2739.5" y="292"><tspan dy="4.5">immune response</tspan></text>
<rect x="1513" y="360" width="82" height="36"/><text x="1554" y="378"><tspan x="1554" dy="-2.25">regulation of</tspan><tspan x="1554" dy="13.5">signaling</tspan></text>
<rect x="1691" y="360" width="130" height="36"/><text x="1756" y="378"><tspan x="1756" dy="-2.25">cellular response</tspan><tspan x="1756" dy="13.5">to organic substance</tspan></text>
<rect x="1970" y="354" width="118" height="48"/><text x="2029" y="378"><tspan x="2029" dy="-9">negative regulation</tspan><tspan x="2029" dy="13.5">of response</tspan><tspan x="2029" dy="13.5">to stimulus</tspan></text>
<rect x="2185" y="354" width="120" height="48"/><text x="2245" y="378"><tspan x="2245" dy="-9">positive regulation</tspan><tspan x="2245" dy="13.5">of immune system</tspan><tspan x="2245" dy="13.5">process</tspan></text>
<rect x="2401" y="360" width="79" height="36"/><text x="2440.5" y="378"><tspan x="2440.5" dy="-2.25">response to</tspan><tspan x="2440.5" dy="13.5">cytokine</tspan></text>
<rect x="2576" y="360" width="115" height="36"/><text x="2633.5" y="378"><tspan x="2633.5" dy="-2.25">regulation of</tspan><tspan x="2633.5" dy="13.5">immune response</tspan></text>
<rect x="2786" y="354" width="115" height="48"/><text x="2843.5" y="378"><tspan x="2843.5" dy="-9">positive regulation</tspan><tspan x="2843.5" dy="13.5">of response</tspan><tspan x="2843.5" dy="13.5">to stimulus</tspan></text>
<rect x="1434" y="452" width="119" height="36"/><text x="1493.5" y="470"><tspan x="1493.5" dy="-2.25">negative regulation</tspan><tspan x="1493.5" dy="13.5">of signaling</tspan></text>
<rect x="1598" y="452" width="115" height="36"/><text x="1655.5" y="470"><tspan x="1655.5" dy="-2.25">positive regulation</tspan><tspan x="1655.5" dy="13.5">of signaling</tspan></text>
<rect x="1809" y="452" width="173" height="36"/><text x="1895.5" y="470"><tspan x="1895.5" dy="-2.25">immune response-regulating</tspan><tspan x="1895.5" dy="13.5">signaling pathway</tspan></text>
<rect x="2080" y="445" width="108" height="49"/><text x="2134" y="469.5"><tspan x="2134" dy="-9">cellular response</tspan><tspan x="2134" dy="13.5">to cytokine</tspan><tspan x="2134" dy="13.5">stimulus</tspan></text>
<rect x="2283" y="445" width="113" height="49"/><text x="2339.5" y="469.5"><tspan x="2339.5" dy="-9">regulation of</tspan><tspan x="2339.5" dy="13.5">response to</tspan><tspan x="2339.5" dy="13.5">cytokine stimulus</tspan></text>
<rect x="2491" y="445" width="97" height="49"/><text x="2539.5" y="469.5"><tspan x="2539.5" dy="-9">response to</tspan><tspan x="2539.5" dy="13.5">tumor necrosis</tspan><tspan x="2539.5" dy="13.5">factor</tspan></text>
<rect x="2633" y="452" width="128" height="36"/><text x="2697" y="470"><tspan x="2697" dy="-2.25">positive regulation</tspan><tspan x="2697" dy="13.5">of immune response</tspan></text>
<rect x="1604" y="550" width="135" height="37"/><text x="1671.5" y="568.5"><tspan x="1671.5" dy="-2.25">positive regulation</tspan><tspan x="1671.5" dy="13.5">of signal transduction</tspan></text>
<rect x="1789" y="550" width="116" height="37"/><text x="1847" y="568.5"><tspan x="1847" dy="-2.25">cytokine-mediated</tspan><tspan x="1847" dy="13.5">signaling pathway</tspan></text>
<rect x="2003" y="537" width="119" height="63"/><text x="2062.5" y="568.5"><tspan x="2062.5" dy="-15.75">negative regulation</tspan><tspan x="2062.5" dy="13.5">of response</tspan><tspan x="2062.5" dy="13.5">to cytokine</tspan><tspan x="2062.5" dy="13.5">stimulus</tspan></text>
<rect x="2218" y="544" width="112" height="49"/><text x="2274" y="568.5"><tspan x="2274" dy="-9">cellular response</tspan><tspan x="2274" dy="13.5">to tumor necrosis</tspan><tspan x="2274" dy="13.5">factor</tspan></text>
<rect x="2386" y="550" width="113" height="37"/><text x="2442.5" y="568.5"><tspan x="2442.5" dy="-2.25">activation of</tspan><tspan x="2442.5" dy="13.5">immune response</tspan></text>
<rect x="1902" y="649" width="116" height="50"/><text x="1960" y="674"><tspan x="1960" dy="-9">regulation of</tspan><tspan x="1960" dy="13.5">cytokine-mediated</tspan><tspan x="1960" dy="13.5">signaling pathway</tspan></text>
<rect x="2064" y="649" width="113" height="50"/><text x="2120.5" y="674"><tspan x="2120.5" dy="-9">tumor necrosis</tspan><tspan x="2120.5" dy="13.5">factor-mediated</tspan><tspan x="2120.5" dy="13.5">signaling pathway</tspan></text>
<rect x="2222" y="656" width="174" height="36"/><text x="2309" y="674"><tspan x="2309" dy="-2.25">immune response-activating</tspan><tspan x="2309" dy="13.5">signaling pathway</tspan></text>
<rect x="1783" y="761" width="130" height="50"/><text x="1848" y="786"><tspan x="1848" dy="-9">negative regulation</tspan><tspan x="1848" dy="13.5">of cytokine-mediated</tspan><tspan x="1848" dy="13.5">signaling pathway</tspan></text>
<rect x="1960" y="754" width="113" height="62"/><text x="2016.5" y="785"><tspan x="2016.5" dy="-15.75">regulation of</tspan><tspan x="2016.5" dy="13.5">tumor necrosis</tspan><tspan x="2016.5" dy="13.5">factor-mediated</tspan><tspan x="2016.5" dy="13.5">signaling pathway</tspan></text>
<rect x="1957" y="859" width="119" height="64"/><text x="2016.5" y="891"><tspan x="2016.5" dy="-15.75">negative regulation</tspan><tspan x="2016.5" dy="13.5">of tumor necrosis</tspan><tspan x="2016.5" dy="13.5">factor-mediated</tspan><tspan x="2016.5" dy="13.5">signaling pathway</tspan></text>
<rect class="bh" x="1957" y="923" width="60" height="20"/><rect class="bh" x="2017" y="923" width="59" height="20"/><text x="1987" y="937.5">Human</text><text x="2046.5" y="937.5">PELI3</text>
<rect class="bm" x="1957" y="943" width="60" height="22"/><rect class="bm" x="2017" y="943" width="59" height="22"/><text x="1987" y="958.5">Mouse</text><text x="2046.5" y="958.5">Peli3</text>
<rect x="2352" y="887" width="95" height="50"/><text x="2399.5" y="912"><tspan x="2399.5" dy="-9">activation of</tspan><tspan x="2399.5" dy="13.5">innate immune</tspan><tspan x="2399.5" dy="13.5">response</tspan></text>
<rect x="2241" y="1005" width="123" height="49"/><text x="2302.5" y="1029.5"><tspan x="2302.5" dy="-9">innate immune</tspan><tspan x="2302.5" dy="13.5">response-activating</tspan><tspan x="2302.5" dy="13.5">signaling pathway</tspan></text>
<rect x="1623" y="1095" width="117" height="49"/><text x="1681.5" y="1119.5"><tspan x="1681.5" dy="-9">pattern recognition</tspan><tspan x="1681.5" dy="13.5">receptor signaling</tspan><tspan x="1681.5" dy="13.5">pathway</tspan></text>
<rect x="1465" y="1187" width="112" height="62"/><text x="1521" y="1218"><tspan x="1521" dy="-15.75">cytosolic pattern</tspan><tspan x="1521" dy="13.5">recognition</tspan><tspan x="1521" dy="13.5">receptor signaling</tspan><tspan x="1521" dy="13.5">pathway</tspan></text>
<rect x="1622" y="1187" width="118" height="62"/><text x="1681" y="1218"><tspan x="1681" dy="-15.75">regulation of</tspan><tspan x="1681" dy="13.5">pattern recognition</tspan><tspan x="1681" dy="13.5">receptor signaling</tspan><tspan x="1681" dy="13.5">pathway</tspan></text>
<rect x="1423" y="1305" width="115" height="62"/><text x="1480.5" y="1336"><tspan x="1480.5" dy="-15.75">nucleotide-binding</tspan><tspan x="1480.5" dy="13.5">oligomerization</tspan><tspan x="1480.5" dy="13.5">domain containing</tspan><tspan x="1480.5" dy="13.5">signaling pathway</tspan></text>
<rect x="1582" y="1292" width="117" height="89"/><text x="1640.5" y="1336.5"><tspan x="1640.5" dy="-29.25">regulation of</tspan><tspan x="1640.5" dy="13.5">viral-induced</tspan><tspan x="1640.5" dy="13.5">cytoplasmic</tspan><tspan x="1640.5" dy="13.5">pattern recognition</tspan><tspan x="1640.5" dy="13.5">receptor signaling</tspan><tspan x="1640.5" dy="13.5">pathway</tspan></text>
<rect x="1747" y="1305" width="132" height="62"/><text x="1813" y="1336"><tspan x="1813" dy="-15.75">positive regulation</tspan><tspan x="1813" dy="13.5">of pattern recognition</tspan><tspan x="1813" dy="13.5">receptor signaling</tspan><tspan x="1813" dy="13.5">pathway</tspan></text>
<rect x="1424" y="1417" width="114" height="76"/><text x="1481" y="1455"><tspan x="1481" dy="-22.5">nucleotide-binding</tspan><tspan x="1481" dy="13.5">oligomerization</tspan><tspan x="1481" dy="13.5">domain containing</tspan><tspan x="1481" dy="13.5">1 signaling</tspan><tspan x="1481" dy="13.5">pathway</tspan></text>
<rect x="1584" y="1417" width="114" height="76"/><text x="1641" y="1455"><tspan x="1641" dy="-22.5">regulation of</tspan><tspan x="1641" dy="13.5">nucleotide-binding</tspan><tspan x="1641" dy="13.5">oligomerization</tspan><tspan x="1641" dy="13.5">domain containing</tspan><tspan x="1641" dy="13.5">signaling pathway</tspan></text>
<rect x="1528" y="1529" width="115" height="89"/><text x="1585.5" y="1573.5"><tspan x="1585.5" dy="-29.25">regulation of</tspan><tspan x="1585.5" dy="13.5">nucleotide-binding</tspan><tspan x="1585.5" dy="13.5">oligomerization</tspan><tspan x="1585.5" dy="13.5">domain containing</tspan><tspan x="1585.5" dy="13.5">1 signaling</tspan><tspan x="1585.5" dy="13.5">pathway</tspan></text>
<rect class="bm" x="1528" y="1618" width="58" height="22"/><rect class="bm" x="1586" y="1618" width="57" height="22"/><text x="1557" y="1633.5">Mouse</text><text x="1614.5" y="1633.5">Peli3</text>
<rect x="1689" y="1547" width="129" height="75"/><text x="1753.5" y="1584.5"><tspan x="1753.5" dy="-22.5">positive regulation</tspan><tspan x="1753.5" dy="13.5">of nucleotide-binding</tspan><tspan x="1753.5" dy="13.5">oligomerization</tspan><tspan x="1753.5" dy="13.5">domain containing</tspan><tspan x="1753.5" dy="13.5">signaling pathway</tspan></text>

<rect x="3174" y="84" width="123" height="76"/><text x="3235.5" y="122"><tspan x="3235.5" dy="-22.5">biological process</tspan><tspan x="3235.5" dy="13.5">involved in</tspan><tspan x="3235.5" dy="13.5">interspecies</tspan><tspan x="3235.5" dy="13.5">interaction</tspan><tspan x="3235.5" dy="13.5">between organisms</tspan></text>
<rect x="3061" y="196" width="110" height="36"/><text x="3116" y="214"><tspan x="3116" dy="-2.25">response to</tspan><tspan x="3116" dy="13.5">external stimulus</tspan></text>
<rect x="3445" y="196" width="95" height="36"/><text x="3492.5" y="214"><tspan x="3492.5" dy="-2.25">response to</tspan><tspan x="3492.5" dy="13.5">biotic stimulus</tspan></text>
<rect x="3844" y="196" width="123" height="36"/><text x="3905.5" y="214"><tspan x="3905.5" dy="-2.25">multicellular</tspan><tspan x="3905.5" dy="13.5">organismal process</tspan></text>
<rect x="3104" y="274" width="78" height="36"/><text x="3143" y="292"><tspan x="3143" dy="-2.25">response to</tspan><tspan x="3143" dy="13.5">stress</tspan></text>
<rect x="3495" y="267" width="90" height="50"/><text x="3540" y="292"><tspan x="3540" dy="-9">response to</tspan><tspan x="3540" dy="13.5">external biotic</tspan><tspan x="3540" dy="13.5">stimulus</tspan></text>
<rect x="3789" y="267" width="123" height="50"/><text x="3850.5" y="292"><tspan x="3850.5" dy="-9">regulation of</tspan><tspan x="3850.5" dy="13.5">multicellular</tspan><tspan x="3850.5" dy="13.5">organismal process</tspan></text>
<rect x="2946" y="354" width="110" height="48"/><text x="3001" y="378"><tspan x="3001" dy="-9">regulation of</tspan><tspan x="3001" dy="13.5">response to</tspan><tspan x="3001" dy="13.5">external stimulus</tspan></text>
<rect x="3103" y="354" width="81" height="48"/><text x="3143.5" y="378"><tspan x="3143.5" dy="-9">regulation of</tspan><tspan x="3143.5" dy="13.5">response to</tspan><tspan x="3143.5" dy="13.5">stress</tspan></text>
<rect x="3281" y="367" width="113" height="22"/><text x="3337.5" y="378"><tspan dy="4.5">defense response</tspan></text>
<rect x="3439" y="354" width="95" height="48"/><text x="3486.5" y="378"><tspan x="3486.5" dy="-9">regulation of</tspan><tspan x="3486.5" dy="13.5">response to</tspan><tspan x="3486.5" dy="13.5">biotic stimulus</tspan></text>
<rect x="3681" y="360" width="96" height="36"/><text x="3729" y="378"><tspan x="3729" dy="-2.25">response to</tspan><tspan x="3729" dy="13.5">other organism</tspan></text>
<rect x="3823" y="354" width="122" height="48"/><text x="3884" y="378"><tspan x="3884" dy="-9">negative regulation</tspan><tspan x="3884" dy="13.5">of multicellular</tspan><tspan x="3884" dy="13.5">organismal process</tspan></text>
<rect x="4043" y="354" width="118" height="48"/><text x="4102" y="378"><tspan x="4102" dy="-9">negative regulation</tspan><tspan x="4102" dy="13.5">of metabolic</tspan><tspan x="4102" dy="13.5">process</tspan></text>
<rect x="2958" y="440" width="115" height="61"/><text x="3015.5" y="470.5"><tspan x="3015.5" dy="-15.75">positive regulation</tspan><tspan x="3015.5" dy="13.5">of response</tspan><tspan x="3015.5" dy="13.5">to external</tspan><tspan x="3015.5" dy="13.5">stimulus</tspan></text>
<rect x="3171" y="452" width="113" height="36"/><text x="3227.5" y="470"><tspan x="3227.5" dy="-2.25">regulation of</tspan><tspan x="3227.5" dy="13.5">defense response</tspan></text>
<rect x="3430" y="445" width="116" height="49"/><text x="3488" y="469.5"><tspan x="3488" dy="-9">positive regulation</tspan><tspan x="3488" dy="13.5">of response</tspan><tspan x="3488" dy="13.5">to biotic stimulus</tspan></text>
<rect x="3642" y="452" width="114" height="36"/><text x="3699" y="470"><tspan x="3699" dy="-2.25">defense response</tspan><tspan x="3699" dy="13.5">to other organism</tspan></text>
<rect x="3801" y="452" width="79" height="36"/><text x="3840.5" y="470"><tspan x="3840.5" dy="-2.25">response to</tspan><tspan x="3840.5" dy="13.5">bacterium</tspan></text>
<rect x="4100" y="440" width="130" height="61"/><text x="4165" y="470.5"><tspan x="4165" dy="-15.75">negative regulation</tspan><tspan x="4165" dy="13.5">of nitrogen</tspan><tspan x="4165" dy="13.5">compound metabolic</tspan><tspan x="4165" dy="13.5">process</tspan></text>
<rect x="3207" y="550" width="127" height="37"/><text x="3270.5" y="568.5"><tspan x="3270.5" dy="-2.25">positive regulation</tspan><tspan x="3270.5" dy="13.5">of defense response</tspan></text>
<rect x="3541" y="550" width="95" height="37"/><text x="3588.5" y="568.5"><tspan x="3588.5" dy="-2.25">innate immune</tspan><tspan x="3588.5" dy="13.5">response</tspan></text>
<rect x="3728" y="550" width="113" height="37"/><text x="3784.5" y="568.5"><tspan x="3784.5" dy="-2.25">defense response</tspan><tspan x="3784.5" dy="13.5">to bacterium</tspan></text>
<rect x="3728" y="638" width="113" height="49"/><text x="3784.5" y="662.5"><tspan x="3784.5" dy="-9">defense response</tspan><tspan x="3784.5" dy="13.5">to Gram-negative</tspan><tspan x="3784.5" dy="13.5">bacterium</tspan></text>
<rect class="bm" x="3728" y="687" width="57" height="22"/><rect class="bm" x="3785" y="687" width="56" height="22"/><text x="3756.5" y="702.5">Mouse</text><text x="3813" y="702.5">Peli3</text>
<rect x="3060" y="649" width="95" height="50"/><text x="3107.5" y="674"><tspan x="3107.5" dy="-9">regulation of</tspan><tspan x="3107.5" dy="13.5">innate immune</tspan><tspan x="3107.5" dy="13.5">response</tspan></text>
<rect x="2876" y="761" width="114" height="50"/><text x="2933" y="786"><tspan x="2933" dy="-9">positive regulation</tspan><tspan x="2933" dy="13.5">of innate immune</tspan><tspan x="2933" dy="13.5">response</tspan></text>

<rect x="4372" y="111" width="116" height="22"/><text x="4430" y="122"><tspan dy="4.5">metabolic process</tspan></text>
<rect x="4568" y="196" width="120" height="36"/><text x="4628" y="214"><tspan x="4628" dy="-2.25">nitrogen compound</tspan><tspan x="4628" dy="13.5">metabolic process</tspan></text>
<rect x="4767" y="196" width="117" height="36"/><text x="4825.5" y="214"><tspan x="4825.5" dy="-2.25">organic substance</tspan><tspan x="4825.5" dy="13.5">metabolic process</tspan></text>
<rect x="4224" y="274" width="116" height="36"/><text x="4282" y="292"><tspan x="4282" dy="-2.25">regulation of</tspan><tspan x="4282" dy="13.5">metabolic process</tspan></text>
<rect x="4534" y="274" width="114" height="36"/><text x="4591" y="292"><tspan x="4591" dy="-2.25">primary metabolic</tspan><tspan x="4591" dy="13.5">process</tspan></text>
<rect x="4767" y="274" width="117" height="36"/><text x="4825.5" y="292"><tspan x="4825.5" dy="-2.25">macromolecule</tspan><tspan x="4825.5" dy="13.5">metabolic process</tspan></text>
<rect x="4929" y="267" width="130" height="50"/><text x="4994" y="292"><tspan x="4994" dy="-9">organonitrogen</tspan><tspan x="4994" dy="13.5">compound metabolic</tspan><tspan x="4994" dy="13.5">process</tspan></text>
<rect x="4206" y="354" width="120" height="48"/><text x="4266" y="378"><tspan x="4266" dy="-9">regulation of</tspan><tspan x="4266" dy="13.5">nitrogen compound</tspan><tspan x="4266" dy="13.5">metabolic process</tspan></text>
<rect x="4373" y="354" width="116" height="48"/><text x="4431" y="378"><tspan x="4431" dy="-9">regulation of</tspan><tspan x="4431" dy="13.5">macromolecule</tspan><tspan x="4431" dy="13.5">metabolic process</tspan></text>
<rect x="4534" y="354" width="114" height="48"/><text x="4591" y="378"><tspan x="4591" dy="-9">regulation of</tspan><tspan x="4591" dy="13.5">primary metabolic</tspan><tspan x="4591" dy="13.5">process</tspan></text>
<rect x="4796" y="367" width="105" height="22"/><text x="4848.5" y="378"><tspan dy="4.5">gene expression</tspan></text>
<rect x="4998" y="360" width="108" height="36"/><text x="5052" y="378"><tspan x="5052" dy="-2.25">protein metabolic</tspan><tspan x="5052" dy="13.5">process</tspan></text>
<rect x="5152" y="360" width="98" height="36"/><text x="5201" y="378"><tspan x="5201" dy="-2.25">macromolecule</tspan><tspan x="5201" dy="13.5">modification</tspan></text>
<rect x="4277" y="445" width="119" height="49"/><text x="4336.5" y="469.5"><tspan x="4336.5" dy="-9">negative regulation</tspan><tspan x="4336.5" dy="13.5">of macromolecule</tspan><tspan x="4336.5" dy="13.5">metabolic process</tspan></text>
<rect x="4493" y="452" width="105" height="36"/><text x="4545.5" y="470"><tspan x="4545.5" dy="-2.25">regulation of</tspan><tspan x="4545.5" dy="13.5">gene expression</tspan></text>
<rect x="4644" y="445" width="109" height="49"/><text x="4698.5" y="469.5"><tspan x="4698.5" dy="-9">regulation of</tspan><tspan x="4698.5" dy="13.5">protein metabolic</tspan><tspan x="4698.5" dy="13.5">process</tspan></text>
<rect x="4798" y="459" width="123" height="22"/><text x="4859.5" y="470"><tspan dy="4.5">cytokine production</tspan></text>
<rect x="5100" y="452" width="123" height="36"/><text x="5161.5" y="470"><tspan x="5161.5" dy="-2.25">protein modification</tspan><tspan x="5161.5" dy="13.5">process</tspan></text>
<rect x="4289" y="550" width="120" height="37"/><text x="4349" y="568.5"><tspan x="4349" dy="-2.25">negative regulation</tspan><tspan x="4349" dy="13.5">of gene expression</tspan></text>
<rect x="4455" y="550" width="122" height="37"/><text x="4516" y="568.5"><tspan x="4516" dy="-2.25">regulation of</tspan><tspan x="4516" dy="13.5">cytokine production</tspan></text>
<rect x="4624" y="544" width="124" height="49"/><text x="4686" y="568.5"><tspan x="4686" dy="-9">negative regulation</tspan><tspan x="4686" dy="13.5">of protein metabolic</tspan><tspan x="4686" dy="13.5">process</tspan></text>
<rect x="4844" y="550" width="101" height="37"/><text x="4894.5" y="568.5"><tspan x="4894.5" dy="-2.25">type I interferon</tspan><tspan x="4894.5" dy="13.5">production</tspan></text>
<rect x="4991" y="544" width="122" height="49"/><text x="5052" y="568.5"><tspan x="5052" dy="-9">regulation of</tspan><tspan x="5052" dy="13.5">protein modification</tspan><tspan x="5052" dy="13.5">process</tspan></text>
<rect x="5210" y="537" width="122" height="63"/><text x="5271" y="568.5"><tspan x="5271" dy="-15.75">protein modification</tspan><tspan x="5271" dy="13.5">by small protein</tspan><tspan x="5271" dy="13.5">conjugation</tspan><tspan x="5271" dy="13.5">or removal</tspan></text>
<rect x="4456" y="649" width="118" height="50"/><text x="4515" y="674"><tspan x="4515" dy="-9">negative regulation</tspan><tspan x="4515" dy="13.5">of cytokine</tspan><tspan x="4515" dy="13.5">production</tspan></text>
<rect x="4652" y="649" width="101" height="50"/><text x="4702.5" y="674"><tspan x="4702.5" dy="-9">regulation of</tspan><tspan x="4702.5" dy="13.5">type I interferon</tspan><tspan x="4702.5" dy="13.5">production</tspan></text>
<rect x="4975" y="649" width="138" height="50"/><text x="5044" y="674"><tspan x="5044" dy="-9">negative regulation</tspan><tspan x="5044" dy="13.5">of protein modification</tspan><tspan x="5044" dy="13.5">process</tspan></text>
<rect x="5210" y="636" width="122" height="76"/><text x="5271" y="674"><tspan x="5271" dy="-22.5">regulation of</tspan><tspan x="5271" dy="13.5">protein modification</tspan><tspan x="5271" dy="13.5">by small protein</tspan><tspan x="5271" dy="13.5">conjugation</tspan><tspan x="5271" dy="13.5">or removal</tspan></text>
<rect x="5377" y="649" width="123" height="50"/><text x="5438.5" y="674"><tspan x="5438.5" dy="-9">protein modification</tspan><tspan x="5438.5" dy="13.5">by small protein</tspan><tspan x="5438.5" dy="13.5">conjugation</tspan></text>
<rect x="4643" y="750" width="118" height="49"/><text x="4702" y="774.5"><tspan x="4702" dy="-9">negative regulation</tspan><tspan x="4702" dy="13.5">of type I interferon</tspan><tspan x="4702" dy="13.5">production</tspan></text>
<rect class="bm" x="4643" y="799" width="59" height="22"/><rect class="bm" x="4702" y="799" width="59" height="22"/><text x="4672.5" y="814.5">Mouse</text><text x="4731.5" y="814.5">Peli3</text>
<rect x="5092" y="747" width="138" height="77"/><text x="5161" y="785.5"><tspan x="5161" dy="-22.5">negative regulation</tspan><tspan x="5161" dy="13.5">of protein modification</tspan><tspan x="5161" dy="13.5">by small protein</tspan><tspan x="5161" dy="13.5">conjugation</tspan><tspan x="5161" dy="13.5">or removal</tspan></text>
<rect x="5351" y="774" width="129" height="24"/><text x="5415.5" y="786"><tspan dy="4.5">protein ubiquitination</tspan></text>
<rect x="5213" y="894" width="130" height="36"/><text x="5278" y="912"><tspan x="5278" dy="-2.25">regulation of</tspan><tspan x="5278" dy="13.5">protein ubiquitination</tspan></text>
<rect x="5440" y="902" width="153" height="22"/><text x="5516.5" y="913"><tspan dy="4.5">protein polyubiquitination</tspan></text>
<rect x="5205" y="1001" width="146" height="36"/><text x="5278" y="1019"><tspan x="5278" dy="-2.25">negative regulation</tspan><tspan x="5278" dy="13.5">of protein ubiquitination</tspan></text>
<rect class="bm" x="5205" y="1037" width="73" height="21"/><rect class="bm" x="5278" y="1037" width="73" height="21"/><text x="5241.5" y="1052">Mouse</text><text x="5314.5" y="1052">Peli3</text>
<rect x="5459" y="1001" width="116" height="36"/><text x="5517" y="1019"><tspan x="5517" dy="-2.25">protein K63-linked</tspan><tspan x="5517" dy="13.5">ubiquitination</tspan></text>
<rect class="bm" x="5459" y="1037" width="58" height="21"/><rect class="bm" x="5517" y="1037" width="58" height="21"/><text x="5488" y="1052">Mouse</text><text x="5546" y="1052">Peli3</text>
</g>
</svg>
</body></html>
